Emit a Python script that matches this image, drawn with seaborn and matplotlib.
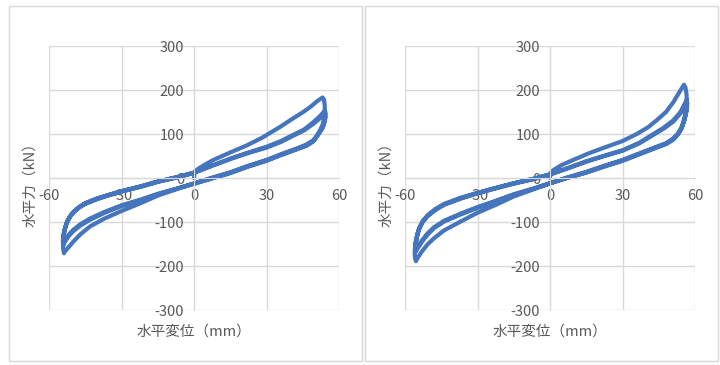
import matplotlib
matplotlib.use("Agg")
import matplotlib.pyplot as plt
from matplotlib.patches import Rectangle
import seaborn as sns
import pandas as pd

# ---- data: (displacement mm, force kN) ----
# left specimen: virgin loading, then three cycles at about +-54 mm
a_virgin = [(0, 0), (0.3, 15), (2, 22), (5, 32), (8, 41), (15, 58), (21.8, 74), (28, 91),
            (35.6, 116), (40, 132), (45.2, 150), (48.5, 163), (50.8, 174), (53.2, 183)]
a_unload1 = [(53.8, 178), (54.1, 165), (54.1, 150), (53.9, 138), (53.3, 122), (52.1, 108),
             (50.8, 96), (49.4, 86), (46.5, 76), (42.5, 67), (36, 54), (30, 41), (22, 27),
             (15, 13), (7, 0), (0, -12), (-7, -25), (-15, -40), (-22, -57), (-30, -75),
             (-37, -92), (-43, -110), (-47, -128), (-50, -145), (-52, -158), (-53.4, -167),
             (-53.8, -171)]
a_reload1 = [(-54.1, -162), (-54.2, -150), (-54, -135), (-53.5, -118), (-52.7, -102),
             (-51.5, -89), (-49.9, -78), (-47.5, -67), (-45, -59), (-40, -48), (-35, -39),
             (-30, -31), (-22, -20), (-15, -9), (-7, 1), (0, 12), (7, 27), (15, 44), (22, 57),
             (30, 71), (36, 84), (41, 98), (45.5, 110), (49.4, 127), (52, 140), (54.2, 153)]
a_unload2 = [(54.5, 146), (54.4, 138), (53.9, 126), (53.3, 116), (52.1, 105), (50.8, 94),
             (49.4, 84), (46.5, 74), (42.5, 66), (36, 53), (30, 40), (22, 26), (15, 12),
             (7, -1), (0, -13), (-7, -24), (-15, -37), (-22, -50), (-30, -64), (-37, -79),
             (-43, -95), (-47, -108), (-50, -121), (-52, -133), (-53.4, -145), (-54, -152)]
a_reload2 = [(-54.3, -146), (-54.2, -136), (-53.9, -126), (-53.4, -114), (-52.6, -101),
             (-51.4, -88), (-49.8, -77), (-47.4, -66), (-45, -58), (-40, -47), (-35, -38),
             (-30, -30), (-22, -19), (-15, -8), (-7, 2), (0, 12), (7, 27), (15, 43), (22, 56),
             (30, 69), (36, 82), (41, 96), (45.5, 108), (49.4, 123), (52, 135), (54, 147)]
a_unload3 = [(54.3, 140), (54.2, 133), (53.8, 123), (53.2, 114), (52, 104), (50.7, 93),
             (49.3, 83), (46.4, 73), (42.5, 65), (36, 52), (30, 39), (22, 25), (15, 11),
             (7, -2), (0, -13), (-7, -24), (-15, -36), (-22, -49), (-30, -62), (-37, -77),
             (-43, -92), (-47, -105), (-50, -118), (-52, -130), (-53.2, -141), (-53.8, -147)]
a_reload3 = [(-54.1, -141), (-54, -132), (-53.7, -122), (-53.2, -111), (-52.4, -99),
             (-51.2, -87), (-49.7, -76), (-47.3, -65), (-45, -57), (-40, -46), (-35, -38),
             (-30, -30), (-22, -19), (-15, -8), (-7, 2), (0, 12)]

# right specimen: same protocol, about +-56 mm
b_virgin = [(0, 0), (0.3, 12), (1.4, 18), (5, 30), (9.6, 41), (16, 56), (23.4, 71), (30, 84),
            (35.9, 100), (40.5, 115), (44.1, 131), (48, 150), (51, 172), (53.5, 195),
            (55.4, 212)]
b_unload1 = [(56.1, 205), (56.5, 190), (56.6, 175), (56.4, 160), (55.7, 138), (54.5, 116),
             (53, 101), (51, 90), (48, 79), (44.1, 71), (37, 56), (30, 41), (22, 27),
             (15, 14), (7, 1), (0, -12), (-7, -26), (-15, -42), (-22, -60), (-30, -79),
             (-37, -99), (-43.8, -119), (-48, -137), (-50.7, -151), (-53, -167),
             (-54.6, -180), (-55.5, -189)]
b_reload1 = [(-55.9, -180), (-56, -168), (-55.6, -155), (-55.1, -135), (-54.2, -117),
             (-52.7, -100), (-50.7, -87), (-47.5, -73), (-43.8, -61), (-37, -47), (-30, -35),
             (-22, -23), (-15, -13), (-7, -3), (0, 8), (7, 22), (15, 38), (22, 50), (30, 63),
             (37, 80), (42.8, 100), (47, 114), (51, 131), (54, 150), (56.6, 178)]
b_unload2 = [(56.8, 170), (56.7, 160), (56.4, 150), (55.7, 133), (54.5, 114), (53, 100),
             (51, 88), (48, 78), (44.1, 70), (37, 55), (30, 40), (22, 26), (15, 13), (7, 0),
             (0, -12), (-7, -25), (-15, -38), (-22, -52), (-30, -68), (-37, -83),
             (-43.8, -99), (-48, -114), (-50.7, -129), (-53, -145), (-54.8, -160),
             (-55.6, -168)]
b_reload2 = [(-55.9, -162), (-55.8, -152), (-55.4, -140), (-54.9, -128), (-54.2, -115),
             (-52.7, -99), (-50.7, -86), (-47.5, -72), (-43.8, -60), (-37, -46), (-30, -34),
             (-22, -22), (-15, -12), (-7, -2), (0, 8), (7, 21), (15, 37), (22, 49), (30, 62),
             (37, 79), (42.8, 98), (47, 112), (51, 128), (54, 147), (56.4, 172)]
b_unload3 = [(56.6, 164), (56.5, 155), (56.2, 146), (55.5, 130), (54.4, 112), (52.9, 99),
             (51, 87), (48, 77), (44.1, 69), (37, 54), (30, 39), (22, 25), (15, 12), (7, 0),
             (0, -12), (-7, -24), (-15, -37), (-22, -51), (-30, -66), (-37, -81),
             (-43.8, -97), (-48, -112), (-50.7, -126), (-53, -142), (-54.6, -156),
             (-55.4, -163)]
b_reload3 = [(-55.7, -157), (-55.6, -148), (-55.2, -137), (-54.7, -125), (-54, -113),
             (-52.5, -97), (-50.7, -85), (-47.5, -71), (-43.8, -59), (-37, -45), (-30, -34),
             (-22, -22), (-15, -12), (-7, -2), (0, 8)]

x_ticks = [-60, -30, 0, 30, 60]
y_ticks = [-300, -200, -100, 0, 100, 200, 300]
x_label = "水平変位（mm）"
y_label = "水平力（kN）"

BLUE = "#4575BD"
GRID = "#D9D9D9"
TEXT = "#595959"

sns.set_style("white")
plt.rcParams["font.family"] = ["Noto Sans CJK JP", "DejaVu Sans"]
plt.rcParams["axes.unicode_minus"] = False

panels = [
    a_virgin + a_unload1 + a_reload1 + a_unload2 + a_reload2 + a_unload3 + a_reload3,
    b_virgin + b_unload1 + b_reload1 + b_unload2 + b_reload2 + b_unload3 + b_reload3,
]

fig = plt.figure(figsize=(7.2, 3.65), dpi=100)

# chart frames (Excel style)
for x0 in (9, 365):
    fig.add_artist(Rectangle((x0 / 720, 4 / 365), 353 / 720, 355 / 365,
                             transform=fig.transFigure, fill=False,
                             ec=GRID, lw=1))

for left_px, path in zip((49, 405), panels):
    df = pd.DataFrame(path, columns=["disp", "force"])
    ax = fig.add_axes([left_px / 720, 55 / 365, 290 / 720, 264 / 365])
    sns.lineplot(data=df, x="disp", y="force", sort=False, estimator=None,
                 color=BLUE, lw=3, ax=ax)
    ax.set_xlim(-60, 60)
    ax.set_ylim(-300, 300)
    ax.set_xticks(x_ticks)
    ax.set_yticks(y_ticks)
    ax.grid(True, color=GRID, lw=1)
    ax.set_axisbelow(True)
    for s in ("top", "right"):
        ax.spines[s].set_visible(False)
    ax.spines["left"].set_position("zero")
    ax.spines["bottom"].set_position("zero")
    ax.spines["left"].set_color(GRID)
    ax.spines["bottom"].set_color(GRID)
    ax.tick_params(length=0, labelsize=10.5, colors=TEXT)
    ax.tick_params(axis="x", pad=8)
    ax.tick_params(axis="y", pad=7)
    ax.set_xlabel("")
    ax.set_ylabel("")
    ax.text(0.5, -0.083, x_label, transform=ax.transAxes, ha="center",
            va="center", fontsize=10.5, color=TEXT)
    ax.text(-0.0655, 0.49, y_label, transform=ax.transAxes, ha="center",
            va="center", rotation=90, fontsize=10.5, color=TEXT)

fig.savefig("out.png", dpi=100)
